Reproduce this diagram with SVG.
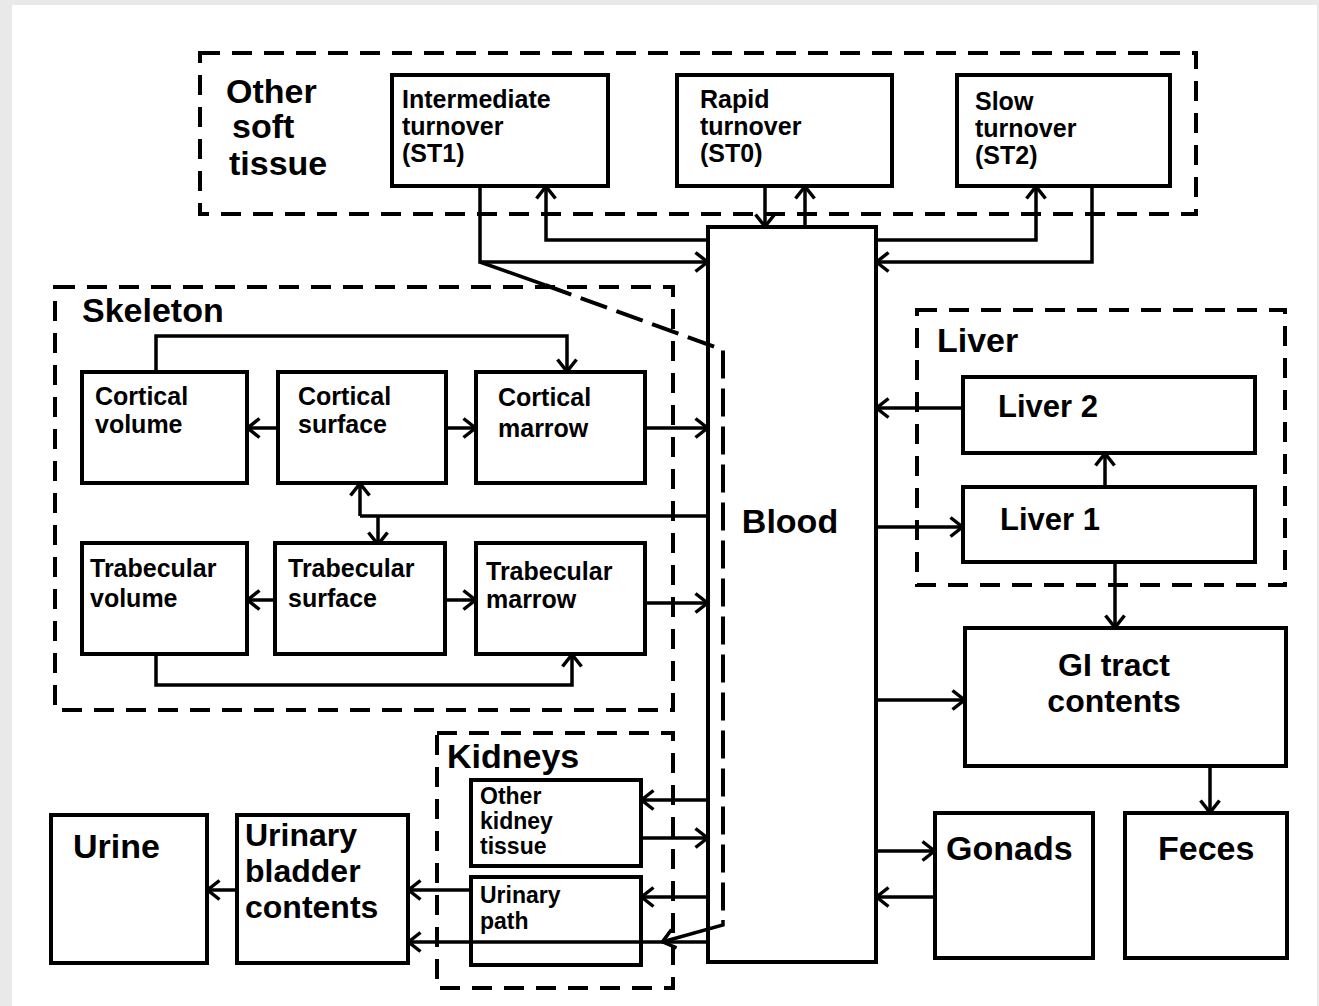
<svg xmlns="http://www.w3.org/2000/svg" width="1319" height="1006" viewBox="0 0 1319 1006">
<defs>
<style>
.box{fill:#fff;stroke:#000;stroke-width:4}
.grp{fill:none;stroke:#000;stroke-width:4;stroke-dasharray:20 12}
.c{fill:none;stroke:#000;stroke-width:3.5;marker-end:url(#a)}
.n{fill:none;stroke:#000;stroke-width:3.5}
.d{fill:none;stroke:#000;stroke-width:4;stroke-dasharray:28 10}
text{font-family:"Liberation Sans",Arial,sans-serif;font-weight:bold;fill:#000}
.s{font-size:25px}
.k{font-size:23px}
.l{font-size:34px}
.m{font-size:32px}
</style>
<marker id="a" viewBox="0 0 15 22" refX="14" refY="11" markerWidth="15" markerHeight="22" markerUnits="userSpaceOnUse" orient="auto">
<path d="M1.5,1.5 L13.5,11 L1.5,20.5" fill="none" stroke="#000" stroke-width="3.5"/>
</marker>
</defs>
<rect x="0" y="0" width="1319" height="1006" fill="#e9e9e9"/>
<rect x="12" y="5" width="1305" height="1001" fill="#fff"/>

<g id="group-other-soft-tissue">
<rect class="grp" x="200" y="53" width="996" height="161"/>
<text class="l" x="226" y="103">Other</text>
<text class="l" x="232" y="138">soft</text>
<text class="l" x="229" y="175">tissue</text>
</g>
<g id="group-skeleton">
<rect class="grp" x="55" y="287" width="618" height="423"/>
<text class="l" x="82" y="322">Skeleton</text>
</g>
<g id="group-liver">
<rect class="grp" x="917" y="310" width="368" height="275"/>
<text class="l" x="937" y="352">Liver</text>
</g>
<g id="group-kidneys">
<rect class="grp" x="437" y="733" width="236" height="255"/>
<text class="l" x="447" y="768">Kidneys</text>
</g>

<g id="connectors">
<path class="c" d="M480,186 L480,262 L708,262"/>
<path class="c" d="M708,240 L546,240 L546,186"/>
<path class="c" d="M765,186 L765,227"/>
<path class="c" d="M805,227 L805,186"/>
<path class="c" d="M876,240 L1036,240 L1036,186"/>
<path class="c" d="M1092,186 L1092,262 L876,262"/>
<path class="c" d="M156,372 L156,336 L567,336 L567,372"/>
<path class="c" d="M278,428 L247,428"/>
<path class="c" d="M446,428 L476,428"/>
<path class="c" d="M645,428 L708,428"/>
<path class="n" d="M708,516 L360,516"/>
<path class="c" d="M360,516 L360,483"/>
<path class="c" d="M378,516 L378,545"/>
<path class="c" d="M275,600 L247,600"/>
<path class="c" d="M445,600 L476,600"/>
<path class="c" d="M645,603 L708,603"/>
<path class="c" d="M156,654 L156,685 L572,685 L572,654"/>
<path class="c" d="M963,408 L876,408"/>
<path class="c" d="M876,527 L963,527"/>
<path class="c" d="M1105,487 L1105,453"/>
<path class="c" d="M1115,562 L1115,628"/>
<path class="c" d="M876,700 L965,700"/>
<path class="c" d="M1210,766 L1210,813"/>
<path class="c" d="M876,851 L935,851"/>
<path class="c" d="M935,897 L876,897"/>
<path class="c" d="M708,800 L641,800"/>
<path class="c" d="M641,838 L708,838"/>
<path class="c" d="M708,897 L641,897"/>
<path class="c" d="M471,890 L408,890"/>
<path class="c" d="M708,942 L408,942"/>
<path class="c" d="M237,890 L207,890"/>
<path class="n" d="M480,262 L545,285"/>
<path class="d" d="M545,285 L723,350 L723,920"/>
<path class="c" d="M723,920 L723,925 L662,942"/>
</g>

<g id="node-st1"><rect class="box" x="392" y="75" width="216" height="111"/>
<text class="s" x="402" y="108">Intermediate</text><text class="s" x="402" y="135">turnover</text><text class="s" x="402" y="162">(ST1)</text></g>
<g id="node-st0"><rect class="box" x="677" y="75" width="215" height="111"/>
<text class="s" x="700" y="108">Rapid</text><text class="s" x="700" y="135">turnover</text><text class="s" x="700" y="162">(ST0)</text></g>
<g id="node-st2"><rect class="box" x="957" y="75" width="213" height="111"/>
<text class="s" x="975" y="110">Slow</text><text class="s" x="975" y="137">turnover</text><text class="s" x="975" y="164">(ST2)</text></g>

<g id="node-blood"><rect class="box" x="708" y="227" width="168" height="735" fill-opacity="0"/>
<text class="l" x="790" y="533" text-anchor="middle">Blood</text></g>

<g id="node-cortical-volume"><rect class="box" x="82" y="372" width="165" height="111"/>
<text class="s" x="95" y="405">Cortical</text><text class="s" x="95" y="433">volume</text></g>
<g id="node-cortical-surface"><rect class="box" x="278" y="372" width="168" height="111"/>
<text class="s" x="298" y="405">Cortical</text><text class="s" x="298" y="433">surface</text></g>
<g id="node-cortical-marrow"><rect class="box" x="476" y="372" width="169" height="111"/>
<text class="s" x="498" y="406">Cortical</text><text class="s" x="498" y="437">marrow</text></g>
<g id="node-trabecular-volume"><rect class="box" x="82" y="543" width="165" height="111"/>
<text class="s" x="90" y="577">Trabecular</text><text class="s" x="90" y="607">volume</text></g>
<g id="node-trabecular-surface"><rect class="box" x="275" y="543" width="170" height="111"/>
<text class="s" x="288" y="577">Trabecular</text><text class="s" x="288" y="607">surface</text></g>
<g id="node-trabecular-marrow"><rect class="box" x="476" y="543" width="169" height="111"/>
<text class="s" x="486" y="580">Trabecular</text><text class="s" x="486" y="608">marrow</text></g>

<g id="node-liver2"><rect class="box" x="963" y="377" width="292" height="76"/>
<text class="l" x="998" y="417" style="font-size:31px">Liver 2</text></g>
<g id="node-liver1"><rect class="box" x="963" y="487" width="292" height="75"/>
<text class="l" x="1000" y="530" style="font-size:31px">Liver 1</text></g>
<g id="node-gi"><rect class="box" x="965" y="628" width="321" height="138"/>
<text class="m" x="1114" y="676" text-anchor="middle">GI tract</text><text class="m" x="1114" y="712" text-anchor="middle">contents</text></g>
<g id="node-gonads"><rect class="box" x="935" y="813" width="158" height="145"/>
<text class="l" x="946" y="860">Gonads</text></g>
<g id="node-feces"><rect class="box" x="1125" y="813" width="162" height="145"/>
<text class="l" x="1158" y="860">Feces</text></g>

<g id="node-other-kidney"><rect class="box" x="471" y="780" width="170" height="86"/>
<text class="k" x="480" y="804">Other</text><text class="k" x="480" y="829">kidney</text><text class="k" x="480" y="854">tissue</text></g>
<g id="node-urinary-path"><rect class="box" x="471" y="877" width="170" height="88" fill-opacity="0"/>
<text class="k" x="480" y="903">Urinary</text><text class="k" x="480" y="929">path</text></g>
<g id="node-bladder"><rect class="box" x="237" y="815" width="171" height="148"/>
<text class="m" x="245" y="846">Urinary</text><text class="m" x="245" y="882">bladder</text><text class="m" x="245" y="918">contents</text></g>
<g id="node-urine"><rect class="box" x="51" y="815" width="156" height="148"/>
<text class="l" x="73" y="858">Urine</text></g>
</svg>
